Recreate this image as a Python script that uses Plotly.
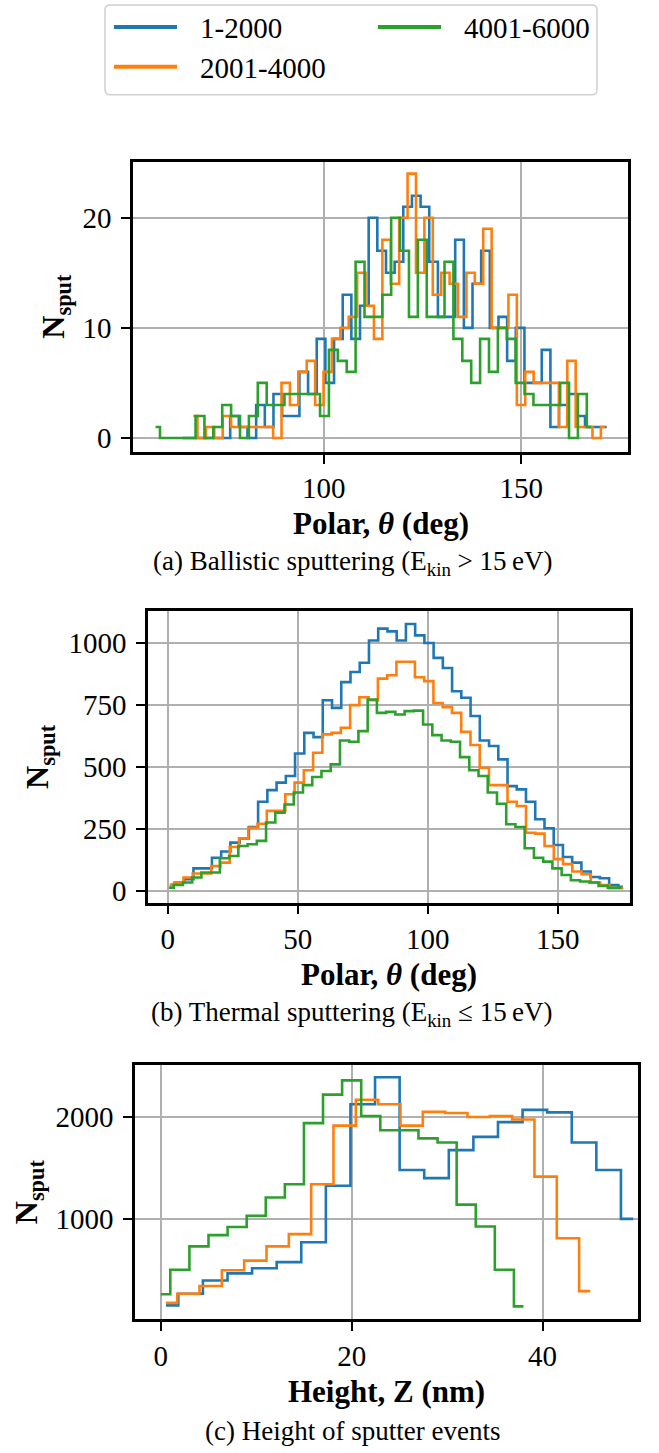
import numpy as np
import plotly.graph_objects as go

W, H = 659, 1453
FONT = "Liberation Serif"

SERIES = ["1-2000", "2001-4000", "4001-6000"]
COLORS = {"1-2000": "#1f77b4", "2001-4000": "#ff7f0e", "4001-6000": "#2ca02c"}

# ---------- panel (a): ballistic sputtering, polar angle (deg), 50 bins per series ----------
A_BINS = {  # (first bin centre, last bin centre, number of bins)
    "1-2000": (64.3, 171.6, 50),
    "2001-4000": (67.0, 171.2, 50),
    "4001-6000": (57.45, 167.7, 50),
}
A_COUNTS = {
    "1-2000": [0, 0, 0, 0, 0, 0, 2, 1, 0, 3, 1, 4, 2, 2, 6, 4, 9, 5, 9, 13, 9, 12, 20, 17, 15,
               16, 21, 22, 21, 16, 11, 11, 18, 10, 14, 17, 10, 11, 7, 10, 5, 5, 8, 1, 3, 4, 2, 1, 1, 1],
    "2001-4000": [2, 0, 1, 0, 2, 1, 1, 1, 1, 1, 0, 5, 3, 6, 7, 3, 6, 9, 10, 11, 15, 12, 9, 18, 14,
                  20, 24, 15, 20, 13, 15, 14, 11, 15, 14, 19, 10, 10, 13, 3, 6, 5, 5, 5, 1, 7, 1, 1, 0, 1],
    "4001-6000": [1, 0, 0, 0, 0, 2, 0, 1, 3, 2, 0, 2, 5, 3, 3, 4, 4, 4, 4, 2, 8, 7, 6, 16, 11,
                  11, 13, 20, 17, 11, 18, 11, 11, 16, 9, 7, 5, 9, 6, 10, 9, 5, 4, 3, 3, 3, 5, 0, 4, 1],
}
A_XTICKS = [100, 150]
A_YTICKS = [0, 10, 20]

# ---------- panel (b): thermal sputtering, polar angle (deg), 50 bins ----------
B_BINS = {
    "1-2000": (1.0, 175.1, 50),
    "2001-4000": (0.7, 175.2, 50),
    "4001-6000": (0.5, 174.6, 50),
}
B_COUNTS = {
    "1-2000": [25, 34, 47, 91, 91, 134, 159, 195, 212, 258, 360, 407, 437, 464, 555, 638, 621, 770,
               739, 843, 884, 921, 1011, 1059, 1048, 1011, 1078, 1032, 1001, 941, 900, 806, 780, 706,
               607, 585, 531, 423, 410, 360, 289, 253, 185, 137, 114, 78, 56, 51, 24, 16],
    "2001-4000": [24, 34, 54, 70, 70, 100, 114, 177, 212, 255, 271, 323, 323, 390, 437, 487, 558, 632,
                  638, 659, 750, 782, 770, 857, 871, 925, 925, 863, 847, 759, 742, 719, 642, 589, 497,
                  427, 427, 360, 343, 235, 231, 181, 128, 108, 78, 67, 34, 24, 11, 11],
    "4001-6000": [13, 24, 34, 54, 74, 74, 132, 141, 181, 188, 202, 276, 316, 349, 397, 427, 460, 484,
                  511, 607, 602, 645, 773, 719, 723, 712, 726, 728, 672, 629, 607, 602, 540, 487, 464,
                  397, 352, 269, 258, 172, 134, 118, 91, 64, 43, 38, 34, 20, 13, 13],
}
B_XTICKS = [0, 50, 100, 150]
B_YTICKS = [0, 250, 500, 750, 1000]

# ---------- panel (c): height of sputter events (nm), 20 bins ----------
C_BINS = {
    "1-2000": (0.55, 49.5, 20),
    "2001-4000": (0.55, 45.0, 20),
    "4001-6000": (0.0, 38.0, 20),
}
C_COUNTS = {
    "1-2000": [150, 265, 395, 465, 515, 575, 770, 1325, 2125, 2390, 1480, 1400, 1675, 1805, 1950,
               2070, 2045, 1750, 1480, 1000],
    "2001-4000": [175, 265, 340, 495, 590, 730, 850, 1340, 1915, 2170, 2125, 1915, 2050, 2040, 2000,
                  2010, 1975, 1415, 810, 290],
    "4001-6000": [260, 500, 730, 840, 920, 1030, 1210, 1340, 1940, 2220, 2360, 2010, 1870, 1870, 1790,
                  1750, 1140, 925, 500, 140],
}
C_XTICKS = [0, 20, 40]
C_YTICKS = [1000, 2000]

# ---------- layout geometry (pixels) ----------
PANELS = [
    # name, bins, counts, box (left, top, right, bottom), xrange, yrange, xticks, yticks
    ("a", A_BINS, A_COUNTS, (133, 162, 628, 453), [51.75, 177.0], [-1.25, 25.1], A_XTICKS, A_YTICKS),
    ("b", B_BINS, B_COUNTS, (148, 613, 630, 905), [-7.6, 177.8], [-47, 1129], B_XTICKS, B_YTICKS),
    ("c", C_BINS, C_COUNTS, (135, 1068, 638, 1323), [-2.7, 50.0], [13, 2510], C_XTICKS, C_YTICKS),
]
XLABELS = ["<b>Polar, <i>θ</i> (deg)</b>", "<b>Polar, <i>θ</i> (deg)</b>", "<b>Height, Z (nm)</b>"]
CAPTIONS = ["(a) Ballistic sputtering (E<sub>kin</sub> > 15\u2009eV)",
            "(b) Thermal sputtering (E<sub>kin</sub> ≤ 15\u2009eV)",
            "(c) Height of sputter events"]
YLABEL = "<b>N<sub>sput</sub></b>"
YLABEL_X = [56, 40, 28]


def px(x):
    return x / W


def py(y):
    return 1 - y / H


fig = go.Figure()
layout = dict(width=W, height=H, margin=dict(l=0, r=0, t=0, b=0),
              paper_bgcolor="white", plot_bgcolor="white", showlegend=False,
              font=dict(family=FONT, color="black"))
annotations = []
shapes = []

for i, (name, bins, counts, box, xr, yr, xt, yt) in enumerate(PANELS):
    sfx = "" if i == 0 else str(i + 1)
    l, t, r, b = box
    for s in SERIES:
        lo, hi, n = bins[s]
        centers = np.linspace(lo, hi, n)
        fig.add_trace(go.Scatter(
            x=centers, y=counts[s], mode="lines", name=s,
            line=dict(color=COLORS[s], width=2.6, shape="hvh"),
            xaxis="x" + sfx, yaxis="y" + sfx, showlegend=False, hoverinfo="skip"))
    common = dict(showgrid=True, gridcolor="#b0b0b0", gridwidth=1.6, zeroline=False,
                  showline=True, linecolor="black", linewidth=2.5, mirror=True,
                  ticks="outside", ticklen=9, tickwidth=2.3, tickcolor="black",
                  tickfont=dict(family=FONT, size=29, color="black"))
    layout["xaxis" + sfx] = dict(common, domain=[px(l), px(r)], range=xr, tickvals=xt,
                                 anchor="y" + sfx, ticklabelstandoff=0)
    layout["yaxis" + sfx] = dict(common, domain=[py(b), py(t)], range=yr, tickvals=yt,
                                 anchor="x" + sfx, ticklabelstandoff=4)
    # axis titles and caption
    annotations.append(dict(text=XLABELS[i], x=px((l + r) / 2), y=py(b + 72), xref="paper", yref="paper",
                            showarrow=False, xanchor="center", yanchor="middle",
                            font=dict(family=FONT, size=31, color="black")))
    annotations.append(dict(text=YLABEL, x=px(YLABEL_X[i]), y=py((t + b) / 2), xref="paper", yref="paper",
                            showarrow=False, xanchor="center", yanchor="middle", textangle=-90,
                            font=dict(family=FONT, size=32, color="black")))
    annotations.append(dict(text=CAPTIONS[i], x=px(352), y=py(b + 112), xref="paper", yref="paper",
                            showarrow=False, xanchor="center", yanchor="middle",
                            font=dict(family=FONT, size=27, color="black")))

# ---------- legend (drawn as a matplotlib-style box) ----------
x0, x1, y0, y1 = px(105), px(597), py(95), py(5)
rx, ry = 5 / W, 5 / H
path = (f"M {x0+rx},{y1} L {x1-rx},{y1} Q {x1},{y1} {x1},{y1-ry} L {x1},{y0+ry} "
        f"Q {x1},{y0} {x1-rx},{y0} L {x0+rx},{y0} Q {x0},{y0} {x0},{y0+ry} "
        f"L {x0},{y1-ry} Q {x0},{y1} {x0+rx},{y1} Z")
shapes.append(dict(type="path", path=path, xref="paper", yref="paper",
                   line=dict(color="#d0d0d0", width=1.5), fillcolor="white"))
LEG_POS = {"1-2000": (114, 27), "2001-4000": (114, 67), "4001-6000": (378, 27)}
for s in SERIES:
    lx, ly = LEG_POS[s]
    shapes.append(dict(type="line", xref="paper", yref="paper", x0=px(lx), x1=px(lx + 63),
                       y0=py(ly), y1=py(ly), line=dict(color=COLORS[s], width=4)))
    annotations.append(dict(text=s, x=px(lx + 84), y=py(ly + 1), xref="paper", yref="paper",
                            showarrow=False, xanchor="left", yanchor="middle",
                            font=dict(family=FONT, size=29, color="black")))

layout["annotations"] = annotations
layout["shapes"] = shapes
fig.update_layout(**layout)
fig.write_html("out.html")
